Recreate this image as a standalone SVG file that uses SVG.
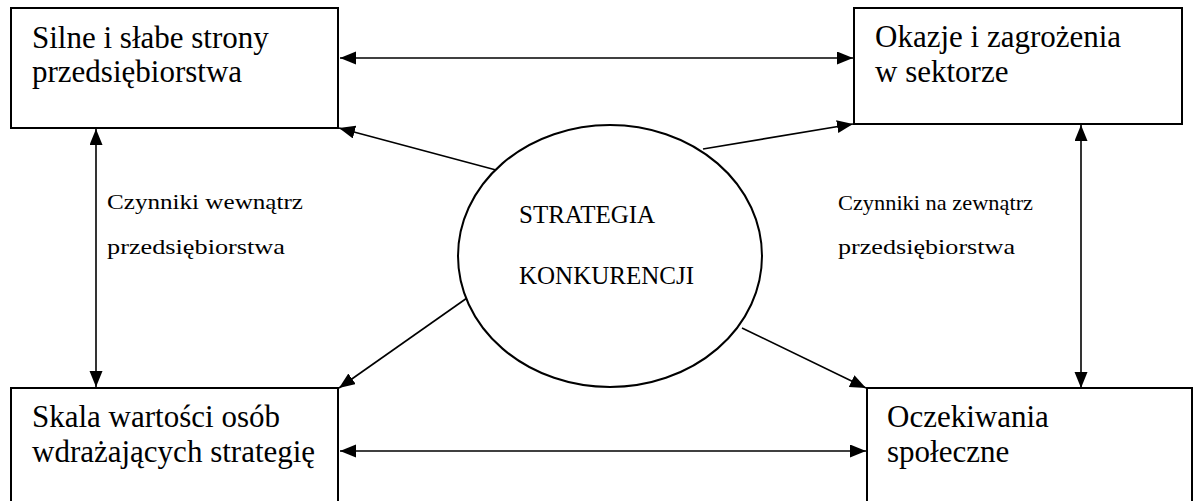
<svg xmlns="http://www.w3.org/2000/svg" width="1193" height="501" viewBox="0 0 1193 501">
<style>
.box{fill:#fff;stroke:#000;stroke-width:2}
text{font-family:'Liberation Serif','Times New Roman',Times,serif;fill:#000}
.big{font-size:31px}
.mid{font-size:25px}
.sm{font-size:22px}
.c{stroke:#000;stroke-width:1.6;fill:none}
</style>
<defs>
<marker id="ah" markerUnits="userSpaceOnUse" markerWidth="17" markerHeight="14" refX="16" refY="6.5" orient="auto-start-reverse">
<path d="M0,0 L16,6.5 L0,13 z" fill="#000"/>
</marker>
</defs>
<rect width="1193" height="501" fill="#fff"/>
<g id="connectors">
<line class="c" x1="340" y1="58" x2="853" y2="58" marker-start="url(#ah)" marker-end="url(#ah)"/>
<line class="c" x1="340" y1="451" x2="866" y2="451" marker-start="url(#ah)" marker-end="url(#ah)"/>
<line class="c" x1="96" y1="129" x2="96" y2="387" marker-start="url(#ah)" marker-end="url(#ah)"/>
<line class="c" x1="1081" y1="125" x2="1081" y2="388" marker-start="url(#ah)" marker-end="url(#ah)"/>
<line class="c" x1="496" y1="170" x2="339" y2="128" marker-end="url(#ah)"/>
<line class="c" x1="703" y1="149" x2="853" y2="124" marker-end="url(#ah)"/>
<line class="c" x1="467" y1="298" x2="339" y2="388" marker-end="url(#ah)"/>
<line class="c" x1="742" y1="328" x2="866" y2="388" marker-end="url(#ah)"/>
</g>
<g id="label-internal">
<text class="sm" x="107" y="209" textLength="196" lengthAdjust="spacingAndGlyphs">Czynniki wewnątrz</text>
<text class="sm" x="107" y="254" textLength="178" lengthAdjust="spacingAndGlyphs">przedsiębiorstwa</text>
</g>
<g id="label-external">
<text class="sm" x="838" y="210" textLength="195" lengthAdjust="spacingAndGlyphs">Czynniki na zewnątrz</text>
<text class="sm" x="838" y="254" textLength="177" lengthAdjust="spacingAndGlyphs">przedsiębiorstwa</text>
</g>
<g id="node-strengths">
<rect class="box" x="11" y="8" width="327" height="120"/>
<text class="big" x="32" y="48">Silne i słabe strony</text>
<text class="big" x="32" y="82">przedsiębiorstwa</text>
</g>
<g id="node-opportunities">
<rect class="box" x="854" y="8" width="328" height="116"/>
<text class="big" x="875" y="47">Okazje i zagrożenia</text>
<text class="big" x="875" y="82">w sektorze</text>
</g>
<g id="node-values">
<rect class="box" x="11" y="388" width="327" height="130"/>
<text class="big" x="32" y="427">Skala wartości osób</text>
<text class="big" x="32" y="462">wdrażających strategię</text>
</g>
<g id="node-expectations">
<rect class="box" x="867" y="388" width="325" height="130"/>
<text class="big" x="887" y="427">Oczekiwania</text>
<text class="big" x="887" y="462">społeczne</text>
</g>
<g id="node-strategy">
<ellipse class="box" cx="610" cy="256" rx="152" ry="131"/>
<text class="mid" x="519" y="223">STRATEGIA</text>
<text class="mid" x="519" y="284">KONKURENCJI</text>
</g>
</svg>
